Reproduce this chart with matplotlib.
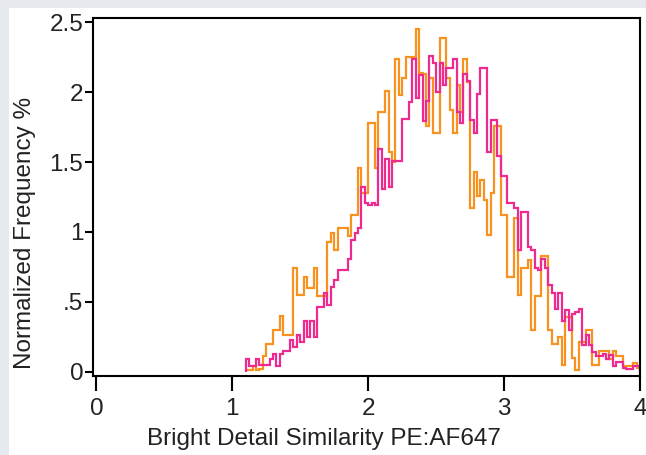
import numpy as np
import matplotlib
matplotlib.use('Agg')
import matplotlib.pyplot as plt
from matplotlib.patches import Rectangle

plt.rcParams['font.family'] = ['Liberation Sans', 'DejaVu Sans']

# histogram bins (bin start and width)
binStart = 1.1
binWidth = 0.025

# orange series, normalized frequency % per bin
orangeVals = [
    0.01, 0.01, 0.04, 0.01, 0.02, 0.11, 0.20, 0.20, 0.30, 0.30,
    0.40, 0.26, 0.26, 0.26, 0.74, 0.55, 0.55, 0.68, 0.60, 0.60,
    0.74, 0.54, 0.54, 0.54, 0.93, 0.99, 0.87, 1.03, 1.03, 1.03,
    0.97, 1.12, 1.12, 1.46, 1.28, 1.28, 1.78, 1.78, 1.46, 1.86,
    1.86, 2.01, 1.57, 1.50, 2.24, 1.98, 2.10, 2.25, 2.25, 2.25,
    2.45, 2.14, 2.13, 1.76, 2.10, 1.71, 1.71, 2.39, 2.39, 2.10,
    1.87, 1.71, 2.05, 1.86, 2.24, 2.07, 1.17, 1.43, 1.26, 1.37,
    1.23, 0.98, 1.28, 1.76, 1.76, 1.12, 1.12, 0.68, 0.68, 1.10,
    0.55, 0.74, 0.74, 0.80, 0.30, 0.54, 0.54, 0.83, 0.83, 0.30,
    0.20, 0.20, 0.25, 0.05, 0.39, 0.39, 0.10, 0.01, 0.21, 0.21,
    0.30, 0.30, 0.05, 0.05, 0.15, 0.15, 0.15, 0.09, 0.15, 0.11,
    0.11, 0.04, 0.04, 0.04, 0.06, 0.03,
]

# magenta series
magentaVals = [
    0.09, 0.04, 0.04, 0.09, 0.05, 0.05, 0.05, 0.09, 0.13, 0.04,
    0.13, 0.15, 0.15, 0.23, 0.18, 0.26, 0.21, 0.36, 0.25, 0.36,
    0.25, 0.46, 0.46, 0.56, 0.48, 0.61, 0.66, 0.73, 0.73, 0.73,
    0.81, 0.94, 0.99, 1.03, 1.32, 1.21, 1.19, 1.21, 1.19, 1.59,
    1.31, 1.52, 1.32, 1.51, 1.51, 1.51, 1.81, 1.81, 1.93, 2.24,
    1.96, 2.12, 1.79, 1.94, 2.26, 2.21, 2.00, 2.21, 2.05, 2.17,
    2.17, 2.24, 1.86, 1.78, 2.13, 2.08, 1.80, 1.71, 1.99, 2.17,
    2.17, 1.57, 1.80, 1.80, 1.54, 1.40, 1.40, 1.21, 1.21, 1.17,
    0.87, 1.14, 1.14, 0.89, 0.87, 0.74, 0.73, 0.81, 0.74, 0.62,
    0.56, 0.45, 0.56, 0.36, 0.44, 0.30, 0.41, 0.43, 0.45, 0.19,
    0.26, 0.19, 0.14, 0.11, 0.11, 0.13, 0.09, 0.12, 0.04, 0.07,
    0.07, 0.03, 0.02, 0.02, 0.04, 0.04,
]

xTicks = [0, 1, 2, 3, 4]
xTickLabels = ['0', '1', '2', '3', '4']
yTicks = [0, 0.5, 1, 1.5, 2, 2.5]
yTickLabels = ['0', '.5', '1', '1.5', '2', '2.5']

fig = plt.figure(figsize=(6.46, 4.55), dpi=100)
fig.patch.set_facecolor('#e6e9ee')
# white panel inside the grey frame
fig.patches.append(Rectangle((9 / 646, 0), 1, 1 - 8 / 455, transform=fig.transFigure,
                             facecolor='white', edgecolor='none', zorder=-10))

ax = fig.add_axes([93 / 646, 1 - 376 / 455, (640 - 93) / 646, (376 - 18) / 455])
ax.set_facecolor('white')

edges = binStart + binWidth * np.arange(len(orangeVals) + 1)
ax.stairs(orangeVals, edges, color='#f7921e', linewidth=1.6)
ax.stairs(magentaVals, edges, color='#ec2a8f', linewidth=1.6)

ax.set_xlim(-0.025, 4.0)
ax.set_ylim(-0.03, 2.53)
ax.set_xticks(xTicks)
ax.set_xticklabels(xTickLabels)
ax.set_yticks(yTicks)
ax.set_yticklabels(yTickLabels)

for s in ax.spines.values():
    s.set_linewidth(1.5)
    s.set_color('black')

ax.tick_params(axis='x', direction='out', length=11, width=1.5, labelsize=17.5, pad=5,
               labelcolor='#222222')
ax.tick_params(axis='y', direction='out', length=6, width=1.5, labelsize=17.5, pad=1,
               labelcolor='#222222')

ax.set_xlabel('Bright Detail Similarity PE:AF647', fontsize=17.5, color='#222222')
ax.set_ylabel('Normalized Frequency %', fontsize=17.5, color='#222222')
ax.xaxis.set_label_coords(0.422, -0.145)
ax.yaxis.set_label_coords(-0.105, 0.40)

fig.savefig('out.png', dpi=100, facecolor=fig.get_facecolor())
